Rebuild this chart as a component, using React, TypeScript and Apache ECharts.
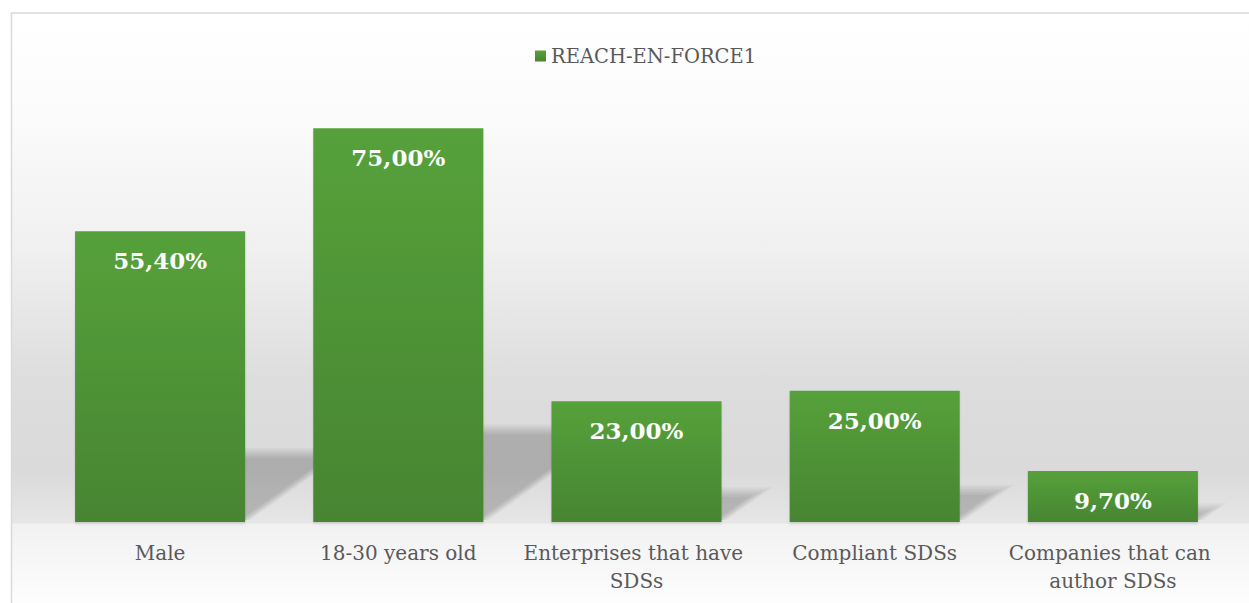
import React, { useEffect, useRef } from "react";
import * as echarts from "echarts";

const seriesName = "REACH-EN-FORCE1";
const categories = [
  "Male",
  "18-30 years old",
  "Enterprises that have SDSs",
  "Compliant SDSs",
  "Companies that can author SDSs",
];
const values = [55.4, 75.0, 23.0, 25.0, 9.7];
const yMax = 80;

const SERIF = "'DejaVu Serif', 'Liberation Serif', serif";

export default function App() {
  const ref = useRef<HTMLDivElement>(null);

  useEffect(() => {
    if (!ref.current) return;
    const chart = echarts.init(ref.current, undefined, { renderer: "svg" });

    const barGradient = new echarts.graphic.LinearGradient(0, 0, 0, 1, [
      { offset: 0, color: "#56a13b" },
      { offset: 1, color: "#478531" },
    ]);

    const bgTop = 13;
    const bgH = 620;
    const off = (y: number) => (y - bgTop) / bgH;

    const softSteps = [-5, -3, -1, 1, 3, 5];

    const option: any = {
      animation: false,
      backgroundColor: "#ffffff",
      graphic: [
        {
          type: "rect",
          z: -10,
          silent: true,
          shape: { x: 11.5, y: bgTop, width: 1257, height: bgH },
          style: {
            fill: new echarts.graphic.LinearGradient(0, 0, 0, 1, [
              { offset: 0, color: "#ffffff" },
              { offset: off(100), color: "#fcfcfc" },
              { offset: off(250), color: "#f0f0f0" },
              { offset: off(380), color: "#dddddd" },
              { offset: off(470), color: "#dadada" },
              { offset: off(523), color: "#e6e6e6" },
              { offset: off(524), color: "#f1f1f1" },
              { offset: off(600), color: "#fdfdfd" },
              { offset: 1, color: "#ffffff" },
            ]),
            stroke: "#d9d9d9",
            lineWidth: 1.5,
          },
        },
      ],
      legend: {
        data: [seriesName],
        left: 530,
        top: 41,
        icon: "rect",
        itemWidth: 11,
        itemHeight: 11,
        itemGap: 10,
        textStyle: {
          color: "#595959",
          fontFamily: SERIF,
          fontSize: 19.5,
        },
      },
      grid: { left: 41, right: 17, top: 102, bottom: 81, containLabel: false },
      xAxis: {
        type: "category",
        data: categories,
        axisLine: { show: false },
        axisTick: { show: false },
        axisLabel: {
          color: "#595959",
          fontFamily: SERIF,
          fontSize: 20,
          margin: 17,
          lineHeight: 28,
          width: 232,
          overflow: "break",
          interval: 0,
        },
      },
      yAxis: {
        type: "value",
        min: 0,
        max: yMax,
        show: false,
        splitLine: { show: false },
      },
      series: [
        {
          type: "custom",
          name: "shadow",
          z: 1,
          silent: true,
          data: values.map((v, i) => [i, v]),
          renderItem: (params: any, api: any) => {
            const idx = api.value(0);
            const v = api.value(1);
            const base = api.coord([idx, 0]);
            const top = api.coord([idx, v]);
            const bw = api.size([1, 0])[0] * 0.714;
            const x0 = base[0] - bw / 2;
            const x1 = base[0] + bw / 2;
            const h = base[1] - top[1];
            const kh = 0.23 * h;
            const dx = 1.4 * kh;
            const y0 = base[1] - 2;
            const children = softSteps.map((g) => {
              const tk = Math.max(kh + g, 2);
              return {
                type: "polygon",
                shape: {
                  points: [
                    [x0, y0],
                    [x1 + g, y0],
                    [x1 + g + 1.4 * tk, y0 - tk],
                    [x0 + dx, y0 - tk],
                  ],
                },
                style: { fill: "rgba(0,0,0,0.034)" },
              };
            });
            return { type: "group", children };
          },
        },
        {
          type: "bar",
          name: seriesName,
          z: 2,
          data: values,
          barCategoryGap: "28.6%",
          itemStyle: {
            color: barGradient,
            shadowColor: "rgba(0,0,0,0.12)",
            shadowBlur: 2,
            shadowOffsetY: 2,
          },
          label: {
            show: true,
            position: "insideTop",
            distance: 18,
            color: "#fcfcfc",
            fontFamily: SERIF,
            fontWeight: "bold",
            fontSize: 23,
            formatter: (p: any) =>
              Number(p.value).toFixed(2).replace(".", ",") + "%",
          },
        },
      ],
    };

    chart.setOption(option);
    return () => chart.dispose();
  }, []);

  return (
    <div
      ref={ref}
      style={{ position: "fixed", left: 0, top: 0, width: 1249, height: 603 }}
    />
  );
}
